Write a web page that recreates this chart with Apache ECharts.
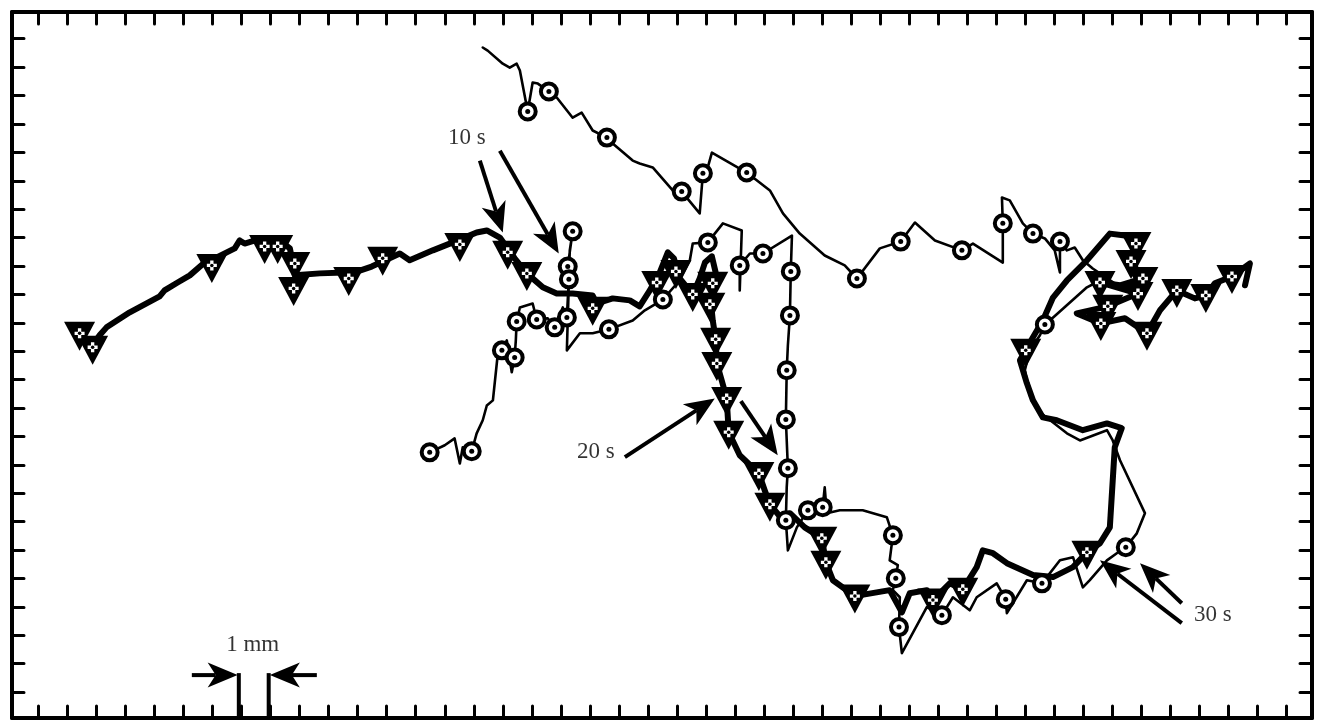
<!DOCTYPE html>
<html><head><meta charset="utf-8">
<script src="https://cdn.jsdelivr.net/npm/echarts@6/dist/echarts.min.js"></script>
<style>html,body{margin:0;padding:0;background:#fff}#c{width:1324px;height:725px}</style>
</head><body><div id="c"></div>
<script>
// positions in mm (1 tick = 1 mm)
const xTicks = [0,1,2,3,4,5,6,7,8,9,10,11,12,13,14,15,16,17,18,19,20,21,22,23,24,25,26,27,28,29,30,31,32,33,34,35,36,37,38,39,40,41,42,43];
const yTicks = [0,1,2,3,4,5,6,7,8,9,10,11,12,13,14,15,16,17,18,19,20,21,22,23];

// thick trajectory (triangle markers)
const thickPath = [
[1.86,12.21],[2.10,12.56],[2.34,12.84],[3.14,13.37],[4.17,13.93],[4.34,14.14],[4.79,14.42],[5.21,14.67],
[5.72,15.12],[6.07,15.27],[6.76,15.62],[6.93,15.90],[7.10,15.79],[7.69,15.97],[8.31,15.90],[8.66,15.62],
[8.76,15.12],[8.83,14.67],[9.69,14.74],[10.55,14.77],[11.07,14.84],[11.48,14.98],[12.10,15.27],[12.45,15.44],
[12.79,15.20],[13.59,15.55],[14.28,15.83],[15.10,16.18],[15.45,16.25],[15.90,16.00],[16.41,15.27],[16.83,14.74],
[17.38,14.25],[17.86,14.03],[18.41,14.03],[19.10,13.96],[19.24,13.68],[19.79,13.86],[20.38,13.79],[20.72,13.58],
[21.07,14.14],[21.41,14.77],[21.69,15.48],[21.90,15.27],[22.10,14.56],[22.55,14.00],[22.79,14.56],[22.97,15.12],
[23.21,15.34],[23.34,14.77],[23.17,13.79],[23.24,13.08],[23.34,12.42],[23.38,11.57],[23.55,10.97],[23.72,10.34],
[23.79,9.15],[24.17,8.34],[24.83,7.70],[25.03,7.11],[25.21,6.61],[25.55,6.19],[25.90,6.30],[26.41,5.80],
[27.00,5.42],[27.14,4.57],[27.38,3.94],[28.14,3.38],[29.34,3.59],[29.76,2.81],[30.03,3.48],[30.62,3.59],
[30.83,3.24],[31.41,3.83],[31.86,3.62],[32.34,4.40],[32.55,4.99],[32.90,4.89],[33.38,4.54],[34.28,4.12],
[34.97,4.05],[35.66,4.40],[36.14,4.92],[36.59,5.24],[36.93,5.80],[37.03,7.46],[37.10,8.62],[37.34,9.29],
[36.83,9.46],[36.00,9.22],[35.10,9.57],[34.62,9.67],[34.28,10.27],[34.07,10.87],[33.83,11.68],[34.03,12.03],
[34.28,12.49],[34.62,13.08],[34.97,13.89],[35.45,14.49],[36.14,15.20],[36.93,16.14],[37.45,16.07],[37.83,15.79],
[37.66,15.16],[38.07,14.56],[37.28,14.32],[36.59,14.42],[37.90,14.03],[36.86,13.58],[35.79,13.33],[36.62,12.98],
[37.45,13.16],[38.21,12.63],[38.66,13.44],[39.24,14.14],[39.86,13.86],[40.24,13.96],[40.55,14.39],[41.14,14.63],
[41.76,15.09],[41.59,14.32]
];
const thickMarkers = [
[1.41,12.63],[1.86,12.14],[5.97,15.02],[7.79,15.69],[8.24,15.69],[8.83,15.09],[8.79,14.21],[10.69,14.56],
[11.86,15.27],[14.52,15.76],[16.17,15.48],[16.83,14.74],[19.10,13.51],[21.31,14.42],[21.97,14.81],[22.55,14.00],
[23.24,14.39],[23.14,13.65],[23.34,12.42],[23.38,11.57],[23.72,10.34],[23.79,9.15],[24.83,7.70],[25.21,6.61],
[27.00,5.42],[27.14,4.57],[28.14,3.38],[30.83,3.24],[31.86,3.62],[36.14,4.92],[34.03,12.03],[37.83,15.79],
[37.66,15.16],[38.07,14.56],[36.59,14.42],[37.90,14.03],[36.86,13.58],[36.62,12.98],[38.21,12.63],[39.24,14.14],
[40.24,13.96],[41.14,14.63]
];

// thin trajectory (circle markers)
const thinPath = [
[13.48,8.44],[14.00,8.69],[14.34,8.93],[14.52,8.05],[14.62,8.62],[14.93,8.48],[15.10,9.11],[15.31,9.57],
[15.45,10.09],[15.66,10.27],[15.83,11.92],[15.97,12.03],[16.14,12.38],[16.31,11.26],[16.41,11.78],[16.45,12.38],
[16.48,13.05],[16.59,13.54],[17.03,13.68],[17.17,13.12],[17.55,13.16],[17.79,12.84],[18.07,13.54],[18.21,13.19],
[18.24,13.79],[18.28,14.53],[18.24,14.98],[18.41,16.22],[18.31,15.55],[18.21,12.03],[18.66,12.63],[19.10,12.63],
[19.66,12.77],[20.48,13.08],[20.90,13.44],[21.52,13.82],[22.10,14.49],[22.45,15.20],[22.55,15.79],[23.07,15.83],
[23.59,16.50],[24.24,16.25],[24.17,14.14],[24.17,15.02],[24.52,15.44],[24.97,15.44],[25.97,16.07],[25.93,14.81],
[25.90,13.26],[25.83,12.21],[25.79,11.33],[25.76,9.60],[25.83,7.88],[25.79,7.21],[25.76,6.05],[25.83,4.99],
[26.14,5.80],[26.52,6.40],[27.03,6.51],[27.10,7.21],[27.17,6.30],[27.62,6.40],[28.41,6.40],[29.24,6.16],
[29.45,5.52],[29.34,4.64],[29.62,4.47],[29.55,4.01],[29.45,3.59],[29.69,3.34],[29.66,2.29],[29.76,1.37],
[30.62,2.99],[31.14,2.71],[31.52,3.34],[32.10,2.88],[32.34,3.34],[33.03,3.83],[33.34,3.27],[33.38,2.78],
[34.07,3.94],[34.59,3.83],[35.21,4.64],[35.66,4.75],[36.00,3.69],[36.24,3.94],[36.83,4.64],[37.17,4.89],
[37.48,5.10],[37.86,5.59],[38.14,6.30],[37.28,8.16],[37.03,8.86],[36.83,9.22],[35.90,8.86],[35.45,9.11],
[34.52,9.85],[34.17,10.45],[34.00,11.33],[34.17,12.03],[34.52,12.56],[34.69,12.94],[34.86,13.08],[36.14,14.25],
[36.59,14.49],[37.45,14.14],[36.34,14.91],[36.00,15.20],[35.72,15.65],[35.45,15.55],[35.21,15.86],[35.21,14.77],
[35.03,15.55],[34.69,15.97],[34.28,16.14],[33.93,16.50],[33.48,17.31],[33.21,17.41],[33.24,16.50],[33.24,15.12],
[32.21,15.79],[31.83,15.55],[30.90,15.90],[30.21,16.53],[29.72,15.86],[29.00,15.62],[28.21,14.56],[27.79,15.02],
[27.10,15.37],[26.24,16.14],[25.66,16.85],[25.21,17.66],[24.41,18.29],[23.21,18.99],[22.97,18.11],[22.90,18.26],
[22.79,16.85],[22.17,17.62],[21.86,17.66],[21.17,18.47],[20.72,18.61],[20.48,18.71],[19.79,19.31],[19.59,19.52],
[19.10,19.77],[18.72,20.40],[18.41,20.22],[17.86,20.93],[17.59,21.14],[17.21,21.42],[17.03,21.46],[16.86,20.44],
[16.59,21.88],[16.48,22.12],[16.24,21.98],[16.00,22.12],[15.48,22.58],[15.31,22.69]
];
const thinMarkers = [
[13.48,8.44],[14.93,8.48],[15.97,12.03],[16.41,11.78],[16.48,13.05],[17.17,13.12],[17.79,12.84],[18.21,13.19],
[18.41,16.22],[18.24,14.98],[18.28,14.53],[19.66,12.77],[21.52,13.82],[23.07,15.83],[24.17,15.02],[24.97,15.44],
[25.93,14.81],[25.90,13.26],[25.79,11.33],[25.76,9.60],[25.83,7.88],[25.76,6.05],[26.52,6.40],[27.03,6.51],
[29.45,5.52],[29.55,4.01],[29.66,2.29],[31.14,2.71],[33.34,3.27],[34.59,3.83],[37.48,5.10],[34.69,12.94],
[35.21,15.86],[34.28,16.14],[33.24,16.50],[31.83,15.55],[29.72,15.86],[28.21,14.56],[24.41,18.29],[22.90,18.26],
[22.17,17.62],[19.59,19.52],[17.59,21.14],[16.86,20.44]
];

// annotation arrows: [x1, y1, x2, y2, head(1/0)]
const arrows = [
[15.21,18.71,16.00,16.18,1],
[15.90,19.06,17.93,15.44,1],
[20.21,8.27,23.31,10.34,1],
[24.21,10.24,25.48,8.34,1],
[39.41,2.43,36.59,4.64,1],
[39.41,3.13,37.97,4.54,1],
[5.28,0.60,6.86,0.60,1],
[9.59,0.60,7.97,0.60,1],
[6.90,0.67,6.90,-0.91,0],
[7.93,0.67,7.93,-0.91,0]
];
const labelText = ['10 s','20 s','30 s','1 mm'];
const labelPos = [[14.76,19.49],[19.21,8.44],[40.48,2.71],[7.38,1.65]];

const chart = echarts.init(document.getElementById('c'), null, {renderer:'canvas'});
const XMIN = -0.92, XMAX = 43.9, YMIN = -0.91, YMAX = 23.94;
const axisCommon = {
  type:'value', scale:false,
  axisLine:{show:true, onZero:false, lineStyle:{color:'#000', width:4}},
  axisTick:{show:true, inside:true, length:12, lineStyle:{color:'#000', width:3, cap:'round'}},
  axisLabel:{show:false}, splitLine:{show:false}
};
const plusPath = 'path://M3,0h3v3h3v3h-3v3h-3v-3h-3v-3h3z';
const option = {
  animation:false,
  backgroundColor:'#fff',
  grid:{left:12, right:12, top:12, bottom:7, containLabel:false},
  xAxis:[
    Object.assign({}, axisCommon, {position:'bottom', min:XMIN, max:XMAX, axisTick:Object.assign({}, axisCommon.axisTick, {customValues:xTicks})}),
    Object.assign({}, axisCommon, {position:'top', min:XMIN, max:XMAX, axisTick:Object.assign({}, axisCommon.axisTick, {customValues:xTicks})})
  ],
  yAxis:[
    Object.assign({}, axisCommon, {position:'left', min:YMIN, max:YMAX, axisTick:Object.assign({}, axisCommon.axisTick, {customValues:yTicks})}),
    Object.assign({}, axisCommon, {position:'right', min:YMIN, max:YMAX, axisTick:Object.assign({}, axisCommon.axisTick, {customValues:yTicks})})
  ],
  series:[
    {type:'line', data:thickPath, showSymbol:false, symbol:'none', z:2,
     lineStyle:{color:'#000', width:6, join:'round', cap:'round'}},
    {type:'line', data:thinPath, showSymbol:false, symbol:'none', z:3,
     lineStyle:{color:'#000', width:2.6, join:'round', cap:'round'}},
    {type:'scatter', data:thickMarkers, symbol:'triangle', symbolRotate:180, symbolSize:[31,29], symbolOffset:[0,3], z:4,
     itemStyle:{color:'#000', opacity:1}},
    {type:'scatter', data:thickMarkers, symbol:plusPath, symbolSize:10, z:5, itemStyle:{color:'#fff', opacity:1}},
    {type:'scatter', data:thickMarkers, symbol:'circle', symbolSize:3.5, z:6, itemStyle:{color:'#000', opacity:1}},
    {type:'scatter', data:thinMarkers, symbol:'circle', symbolSize:16, z:7,
     itemStyle:{color:'#fff', borderColor:'#000', borderWidth:4, opacity:1}},
    {type:'scatter', data:thinMarkers, symbol:'circle', symbolSize:5, z:8, itemStyle:{color:'#000', opacity:1}},
    {type:'custom', data:arrows, z:9, clip:false,
     encode:{x:[0,2], y:[1,3]},
     renderItem:function(params, api){
       const p1 = api.coord([api.value(0), api.value(1)]);
       const p2 = api.coord([api.value(2), api.value(3)]);
       const head = api.value(4);
       const children = [];
       const dx = p2[0]-p1[0], dy = p2[1]-p1[1];
       const len = Math.sqrt(dx*dx+dy*dy);
       const ux = dx/len, uy = dy/len, nx = -uy, ny = ux;
       const L = 30, W = 12.5, notch = 8;
       let end = p2;
       if (head) end = [p2[0]-ux*(L-notch), p2[1]-uy*(L-notch)];
       children.push({type:'line', shape:{x1:p1[0], y1:p1[1], x2:end[0], y2:end[1]},
         style:{stroke:'#000', lineWidth:4}});
       if (head) {
         const bx = p2[0]-ux*L, by = p2[1]-uy*L;
         const nxp = p2[0]-ux*(L-notch), nyp = p2[1]-uy*(L-notch);
         children.push({type:'polygon', shape:{points:[
           [p2[0],p2[1]], [bx+nx*W, by+ny*W], [nxp,nyp], [bx-nx*W, by-ny*W]]},
           style:{fill:'#000'}});
       }
       return {type:'group', children:children};
     }},
    {type:'scatter', data:labelPos.map(function(p,i){return {value:p, name:labelText[i]};}),
     symbolSize:1, z:10, itemStyle:{color:'transparent'},
     label:{show:true, position:'inside', formatter:'{b}', color:'#000', textBorderWidth:0,
       fontFamily:'Liberation Serif, Times New Roman, serif', fontSize:23}}
  ]
};
chart.setOption(option);
</script>
</body></html>
